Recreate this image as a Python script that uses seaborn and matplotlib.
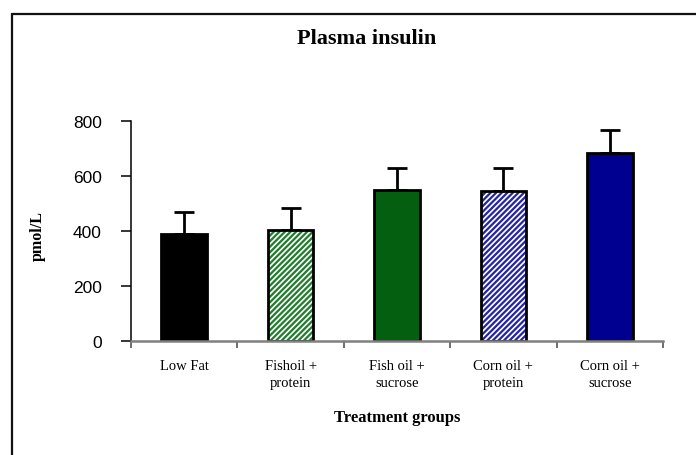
import matplotlib
matplotlib.use("Agg")
import matplotlib.pyplot as plt
import seaborn as sns
import pandas as pd
from matplotlib.patches import Rectangle
from matplotlib.lines import Line2D

# Treatment groups, mean plasma insulin (pmol/L) and upper error
groups = ["Low Fat", "Fishoil +\nprotein", "Fish oil +\nsucrose",
          "Corn oil +\nprotein", "Corn oil +\nsucrose"]
insulin = [390, 405, 550, 545, 685]
err = [80, 78, 80, 83, 82]
y_ticks = [0, 200, 400, 600, 800]

fills = ["#000000", "#ffffff", "#045f10", "#ffffff", "#000090"]
hatch_colors = [None, "#1f7d2c", None, "#2424a6", None]

sns.set_theme(style="white")
plt.rcParams["hatch.linewidth"] = 1.6
plt.rcParams["text.color"] = "black"
serif = "Liberation Serif"
sans = "Liberation Sans"

fig = plt.figure(figsize=(6.96, 4.56), dpi=100)
ax = fig.add_axes([131 / 696, 1 - 342 / 456, (663 - 131) / 696, 220 / 456])

df = pd.DataFrame({"group": groups, "insulin": insulin})
sns.barplot(data=df, x="group", y="insulin", hue="group", palette=fills,
            saturation=1, legend=False, width=0.43, edgecolor="black",
            linewidth=2, errorbar=None, ax=ax)

# Hatched bars: coloured diagonal fill with a black outline on top
for patch, hc in zip(ax.patches, hatch_colors):
    if hc is None:
        continue
    patch.set_hatch("//////")
    patch.set_edgecolor(hc)
    patch.set_linewidth(0)
    outline = Rectangle(patch.get_xy(), patch.get_width(), patch.get_height(),
                        fill=False, edgecolor="black", linewidth=2,
                        zorder=patch.get_zorder() + 0.5)
    ax.add_patch(outline)

ax.errorbar(range(len(groups)), insulin, yerr=[[0] * len(err), err],
            fmt="none", ecolor="black", elinewidth=2, capsize=7,
            capthick=2, zorder=0.5)

ax.set_xlim(-0.5, len(groups) - 0.5)
ax.set_ylim(0, 800)
ax.set_yticks(y_ticks)
ax.set_yticklabels([str(v) for v in y_ticks], fontsize=12.5, family=sans)
ax.set_xticks(range(len(groups)))
ax.set_xticklabels(groups, fontsize=10.5, family=serif, linespacing=1.4)
ax.set_xticks([i - 0.5 for i in range(len(groups) + 1)], minor=True)

ax.tick_params(axis="x", which="major", length=0, pad=13, labelcolor="black")
ax.tick_params(axis="x", which="minor", bottom=True, length=5, width=1.2,
               color="#555555", direction="out")
ax.tick_params(axis="y", which="major", left=True, length=7, width=1.1,
               color="black", direction="out", pad=14, labelcolor="black")

for side in ("top", "right"):
    ax.spines[side].set_visible(False)
ax.spines["left"].set_color("black")
ax.spines["left"].set_linewidth(1.1)
ax.spines["bottom"].set_color("#808080")
ax.spines["bottom"].set_linewidth(1.8)

ax.set_xlabel("Treatment groups", fontsize=12, fontweight="bold",
              family=serif, color="black")
ax.xaxis.set_label_coords(0.5, -0.345)
ax.xaxis.label.set_va("center")
ax.set_ylabel("pmol/L", fontsize=11.5, fontweight="bold", family=serif,
              color="black")
ax.yaxis.set_label_coords(-0.175, 0.48)
ax.yaxis.label.set_va("center")

fig.text(367 / 696, 1 - 39 / 456, "Plasma insulin", ha="center", va="center",
         fontsize=16, fontweight="bold", family=serif, color="black")

# Frame around the chart area (left and top edges)
fig.add_artist(Line2D([12 / 696, 12 / 696], [0, 1 - 15 / 456], color="#111111",
                      lw=1.6, transform=fig.transFigure))
fig.add_artist(Line2D([12 / 696, 1], [1 - 15 / 456, 1 - 15 / 456], color="#111111",
                      lw=1.6, transform=fig.transFigure))

fig.savefig("out.png", dpi=100)
